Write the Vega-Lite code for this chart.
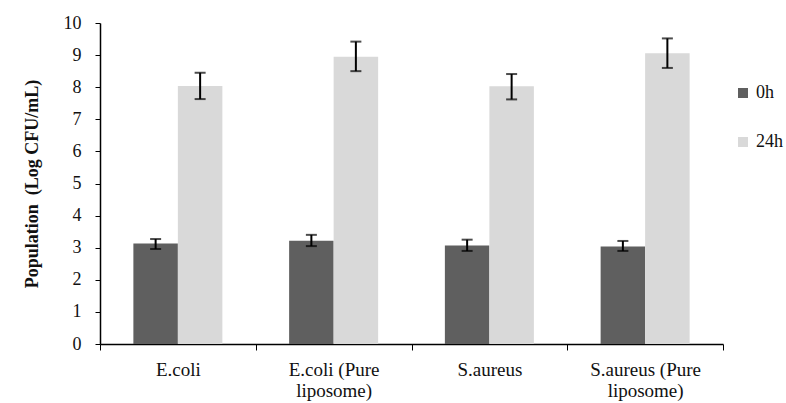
{
  "$schema": "https://vega.github.io/schema/vega-lite/v6.json",
  "width": 623,
  "height": 321,
  "autosize": {"type": "none"},
  "padding": {"left": 100, "top": 23, "right": 63, "bottom": 59},
  "background": "white",
  "config": {
    "view": {"stroke": null},
    "font": "Liberation Serif",
    "axis": {"labelFont": "Liberation Serif", "titleFont": "Liberation Serif", "labelColor": "#111", "tickColor": "black", "domainColor": "black", "domainWidth": 1.5, "grid": false, "labelOverlap": false},
    "axisY": {"labelFontSize": 18, "labelPadding": 14, "tickSize": 5, "titleFontSize": 18, "titleFontWeight": "bold", "titleColor": "#111", "titlePadding": 22, "tickCount": 11, "labelOverlap": false},
    "axisX": {"labelFontSize": 19, "labelPadding": 10, "labelLineHeight": 21, "tickSize": 6, "labelAngle": 0},
    "legend": {"labelFont": "Liberation Serif", "titleFont": "Liberation Serif"}
  },
  "data": {
    "values": [
      {"group": "E.coli", "time": "0h", "mean": 3.13, "lo": 2.96, "hi": 3.27},
      {"group": "E.coli", "time": "24h", "mean": 8.04, "lo": 7.63, "hi": 8.45},
      {"group": "E.coli (Pure liposome)", "time": "0h", "mean": 3.22, "lo": 3.05, "hi": 3.4},
      {"group": "E.coli (Pure liposome)", "time": "24h", "mean": 8.95, "lo": 8.5, "hi": 9.42},
      {"group": "S.aureus", "time": "0h", "mean": 3.07, "lo": 2.9, "hi": 3.25},
      {"group": "S.aureus", "time": "24h", "mean": 8.03, "lo": 7.62, "hi": 8.41},
      {"group": "S.aureus (Pure liposome)", "time": "0h", "mean": 3.04, "lo": 2.9, "hi": 3.21},
      {"group": "S.aureus (Pure liposome)", "time": "24h", "mean": 9.06, "lo": 8.6, "hi": 9.52}
    ]
  },
  "encoding": {
    "x": {
      "field": "group",
      "type": "nominal",
      "sort": null,
      "scale": {"paddingInner": 0, "paddingOuter": 0},
      "axis": {
        "title": null,
        "tickBand": "extent",
        "labelExpr": "datum.label == 'E.coli (Pure liposome)' ? ['E.coli (Pure', 'liposome)'] : datum.label == 'S.aureus (Pure liposome)' ? ['S.aureus (Pure', 'liposome)'] : datum.label"
      }
    },
    "xOffset": {
      "field": "time",
      "type": "nominal",
      "sort": ["0h", "24h"],
      "scale": {"paddingInner": 0, "paddingOuter": 0.75}
    }
  },
  "layer": [
    {
      "mark": {"type": "bar"},
      "encoding": {
        "y": {
          "field": "mean",
          "type": "quantitative",
          "scale": {"domain": [0, 10], "nice": false},
          "axis": {"title": "Population\u00a0 (Log CFU/mL)", "tickCount": 11, "labelOverlap": false}
        },
        "color": {
          "field": "time",
          "type": "nominal",
          "sort": ["0h", "24h"],
          "scale": {"domain": ["0h", "24h"], "range": ["#5f5f5f", "#d9d9d9"]},
          "legend": {
            "title": null,
            "orient": "none",
            "legendX": 634,
            "legendY": 61,
            "symbolType": "square",
            "symbolSize": 100,
            "symbolStrokeWidth": 0,
            "labelFontSize": 18,
            "labelColor": "#111",
            "labelOffset": 4,
            "rowPadding": 31
          }
        }
      }
    },
    {
      "mark": {"type": "rule", "color": "black", "strokeWidth": 2},
      "encoding": {
        "y": {"field": "lo", "type": "quantitative"},
        "y2": {"field": "hi"}
      }
    },
    {
      "mark": {"type": "tick", "color": "black", "thickness": 2, "size": 11, "orient": "horizontal"},
      "encoding": {"y": {"field": "lo", "type": "quantitative"}}
    },
    {
      "mark": {"type": "tick", "color": "black", "thickness": 2, "size": 11, "orient": "horizontal"},
      "encoding": {"y": {"field": "hi", "type": "quantitative"}}
    }
  ]
}
